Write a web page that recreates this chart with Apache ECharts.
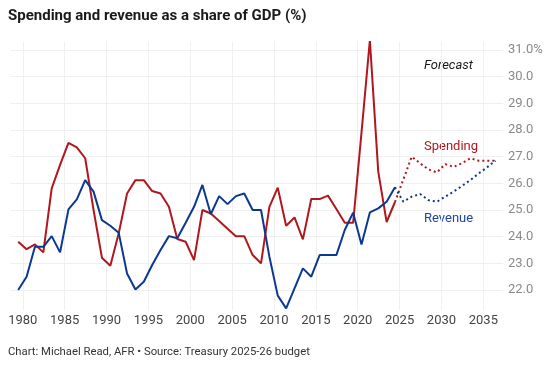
<!DOCTYPE html>
<html>
<head>
<meta charset="utf-8">
<script src="https://cdn.jsdelivr.net/npm/echarts@6/dist/echarts.min.js"></script>
<style>
html,body{margin:0;padding:0;background:#fff;}
#chart{width:548px;height:368px;}
</style>
</head>
<body>
<div id="chart"></div>
<script>
// Fiscal years (actuals)
const actualYears = [1979,1980,1981,1982,1983,1984,1985,1986,1987,1988,1989,1990,1991,1992,1993,1994,1995,1996,1997,1998,1999,2000,2001,2002,2003,2004,2005,2006,2007,2008,2009,2010,2011,2012,2013,2014,2015,2016,2017,2018,2019,2020,2021,2022,2023,2024];
const spendingActual = [23.81,23.53,23.71,23.41,25.81,26.69,27.52,27.35,26.94,25.0,23.21,22.91,24.12,25.62,26.12,26.12,25.71,25.62,25.12,23.91,23.81,23.12,25.0,24.87,24.59,24.3,24.02,24.02,23.31,23.0,25.12,25.84,24.41,24.72,23.9,25.41,25.41,25.54,25.04,24.52,24.52,27.9,31.37,26.44,24.55,25.3];
const revenueActual = [22.0,22.5,23.62,23.62,24.02,23.41,25.02,25.4,26.12,25.69,24.62,24.41,24.15,22.62,22.02,22.31,22.94,23.5,24.02,23.94,24.52,25.12,25.94,24.84,25.52,25.22,25.52,25.62,25.0,25.0,23.25,21.79,21.31,22.06,22.81,22.5,23.31,23.31,23.31,24.25,24.9,23.71,24.91,25.06,25.31,25.85];
// Forecast years
const forecastYears = [2024,2025,2026,2027,2028,2029,2030,2031,2032,2033,2034,2035,2036];
const spendingForecast = [25.3,26.15,27.0,26.75,26.52,26.41,26.72,26.62,26.75,26.94,26.85,26.85,26.85];
const revenueForecast = [25.85,25.31,25.5,25.6,25.37,25.31,25.5,25.69,25.9,26.12,26.37,26.6,26.85];
const xTickLabels = [1980,1985,1990,1995,2000,2005,2010,2015,2020,2025,2030,2035];
const yTickLabels = [22,23,24,25,26,27,28,29,30,31];

const OFFSET = 0.45; // fiscal-year plotting position
const pairs = (xs, ys) => xs.map((x, i) => [x + OFFSET, ys[i]]);

const RED = '#b0181d';
const BLUE = '#0c3890';
const FONT = 'Roboto, "Noto Sans", sans-serif';

const chart = echarts.init(document.getElementById('chart'), null, {renderer: 'canvas'});
chart.setOption({
  animation: false,
  backgroundColor: '#fff',
  grid: {left: 10, right: 45, top: 42, bottom: 58, containLabel: false},
  xAxis: {
    type: 'value', min: 1978.47, max: 2037.35, splitNumber: 12,
    axisLine: {show: false}, axisTick: {show: false},
    axisLabel: {
      color: '#444', fontFamily: FONT, fontSize: 13, margin: 4,
      showMinLabel: false, showMaxLabel: false,
      formatter: v => xTickLabels.indexOf(Math.round(v)) >= 0 && Math.abs(v - Math.round(v)) < 1e-6 ? String(Math.round(v)) : ''
    },
    splitLine: {show: true, showMinLine: false, showMaxLine: false, lineStyle: {color: '#f0f0f0', width: 1}}
  },
  yAxis: {
    type: 'value', position: 'right', min: 21.25, max: 31.3, splitNumber: 10,
    axisLine: {show: false}, axisTick: {show: false},
    axisLabel: {
      color: '#8a8a8a', fontFamily: FONT, fontSize: 13, margin: 5, align: 'left',
      showMinLabel: false, showMaxLabel: false,
      formatter: v => {
        const r = Math.round(v);
        if (Math.abs(v - r) > 1e-6 || yTickLabels.indexOf(r) < 0) return '';
        return r === 31 ? r.toFixed(1) + '%' : r.toFixed(1);
      }
    },
    splitLine: {show: true, showMinLine: false, showMaxLine: false, lineStyle: {color: '#f0f0f0', width: 1}}
  },
  series: [
    {type: 'line', data: pairs(actualYears, spendingActual), symbol: 'none', lineStyle: {color: RED, width: 2}},
    {type: 'line', data: pairs(forecastYears, spendingForecast), symbol: 'none', lineStyle: {color: RED, width: 2, type: [2, 3]}},
    {type: 'line', data: pairs(actualYears, revenueActual), symbol: 'none', lineStyle: {color: BLUE, width: 2}},
    {type: 'line', data: pairs(forecastYears, revenueForecast), symbol: 'none', lineStyle: {color: BLUE, width: 2, type: [2, 3]}}
  ],
  graphic: [
    {type: 'text', left: 8, top: 9, style: {text: 'Spending and revenue as a share of GDP (%)', font: 'bold 15px ' + FONT, fill: '#1a1a1a'}},
    {type: 'text', left: 8, top: 347, style: {text: 'Chart: Michael Read, AFR \u2022 Source: Treasury 2025-26 budget', font: '11.3px ' + FONT, fill: '#333'}},
    {type: 'text', left: 424, top: 59, style: {text: 'Forecast', font: 'italic 13px ' + FONT, fill: '#1a1a1a'}},
    {type: 'text', left: 424, top: 140, style: {text: 'Spending', font: '13px ' + FONT, fill: RED}},
    {type: 'text', left: 424, top: 212, style: {text: 'Revenue', font: '13px ' + FONT, fill: '#1f45a0'}}
  ]
});
</script>
</body>
</html>
